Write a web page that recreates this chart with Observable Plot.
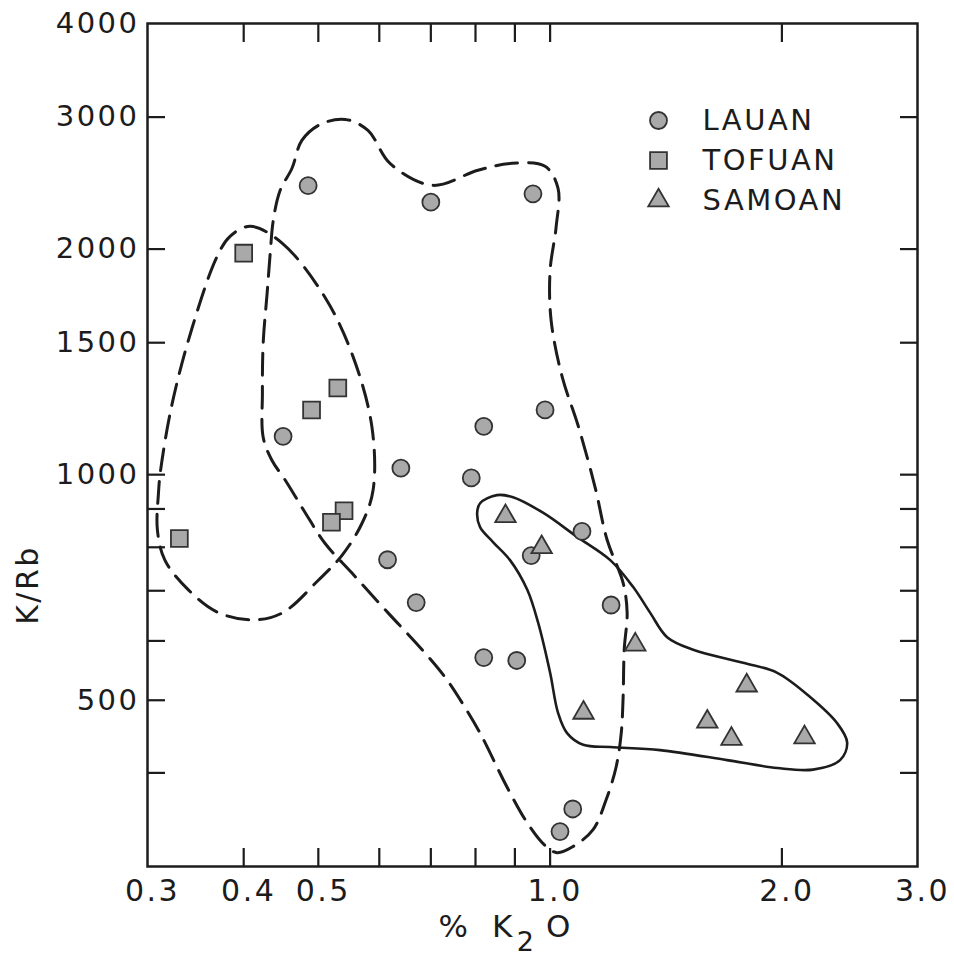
<!DOCTYPE html>
<html>
<head>
<meta charset="utf-8">
<script src="https://cdn.jsdelivr.net/npm/d3@7"></script>
<script src="https://cdn.jsdelivr.net/npm/@observablehq/plot@0.6"></script>
<style>
  body { margin: 0; background: #fff; }
  #chart svg { display: block; }
</style>
</head>
<body>
<div id="chart"></div>
<script>
// ---- Data ----
const seriesNames = ["LAUAN", "TOFUAN", "SAMOAN"];
const seriesSymbols = ["circle", "square", "triangle"];

// LAUAN samples (% K2O, K/Rb)
const lauanK2O = [0.485, 0.70, 0.95, 0.985, 0.82, 0.45, 0.64, 0.79, 0.615, 0.67, 0.82, 0.905, 1.10, 0.945, 1.20, 1.07, 1.03];
const lauanKRb = [2430, 2310, 2370, 1220, 1160, 1125, 1020, 990, 770, 675, 570, 565, 840, 780, 670, 358, 334];

// TOFUAN samples
const tofuanK2O = [0.40, 0.53, 0.49, 0.54, 0.52, 0.33];
const tofuanKRb = [1975, 1305, 1220, 895, 864, 822];

// SAMOAN samples
const samoanK2O = [0.875, 0.975, 1.29, 1.105, 1.80, 1.60, 1.72, 2.14];
const samoanKRb = [880, 800, 593, 481, 523, 468, 444, 446];

// Field envelopes (closed outlines, data units)
const tofuanEnvK2O = [0.408, 0.449, 0.510, 0.555, 0.587, 0.589, 0.570, 0.537, 0.500, 0.449, 0.410, 0.369, 0.339, 0.316, 0.309, 0.310, 0.312, 0.323, 0.343, 0.369, 0.384];
const tofuanEnvKRb = [2145, 2036, 1725, 1435, 1157, 954, 862, 781, 723, 654, 640, 656, 702, 769, 844, 945, 1014, 1245, 1573, 1950, 2080];

const lauanEnvK2O = [0.462, 0.476, 0.503, 0.542, 0.580, 0.620, 0.703, 0.806, 0.892, 0.985, 1.024, 1.018, 1.000, 1.003, 1.037, 1.087, 1.144, 1.186, 1.244, 1.259, 1.248, 1.244, 1.237, 1.218, 1.182, 1.137, 1.071, 1.021, 0.985, 0.934, 0.879, 0.811, 0.764, 0.730, 0.682, 0.616, 0.553, 0.510, 0.481, 0.453, 0.435, 0.424, 0.423, 0.424, 0.429, 0.433, 0.437, 0.446];
const lauanEnvKRb = [2562, 2793, 2934, 2979, 2880, 2600, 2433, 2548, 2603, 2579, 2410, 2138, 1874, 1607, 1349, 1164, 962, 818, 717, 654, 584, 505, 452, 407, 368, 336, 319, 313, 320, 343, 383, 452, 501, 537, 584, 654, 739, 810, 889, 983, 1046, 1122, 1285, 1498, 1746, 1974, 2185, 2395];

const samoanEnvK2O = [0.811, 0.853, 0.895, 0.980, 1.084, 1.197, 1.282, 1.349, 1.419, 1.534, 1.781, 1.972, 2.176, 2.359, 2.431, 2.380, 2.195, 1.972, 1.697, 1.389, 1.197, 1.104, 1.052, 1.024, 1.000, 0.965, 0.934, 0.887, 0.843, 0.811, 0.804];
const samoanEnvKRb = [916, 939, 933, 889, 826, 769, 708, 654, 607, 584, 561, 544, 505, 466, 439, 416, 404, 406, 416, 429, 433, 436, 452, 481, 544, 634, 702, 769, 813, 851, 889];

// Axis ticks
const xTickLabels = [0.3, 0.4, 0.5, 1.0, 2.0, 3.0];
const xTickMarks = [0.4, 0.5, 0.6, 0.7, 0.8, 0.9, 1.0, 2.0];
const yTickLabels = [500, 1000, 1500, 2000, 3000, 4000];
const yTickMarks = [400, 500, 600, 700, 800, 900, 1000, 1500, 2000, 3000];

const yTitle = "K/Rb";
// x title "% K2O", with the 2 set as a lowered subscript
const xTitleParts = ["%", "K", "2", "O"];

// ---- Build tables ----
const toRows = (xs, ys) => xs.map((k, i) => ({k2o: k, krb: ys[i]}));
const lauan = toRows(lauanK2O, lauanKRb);
const tofuan = toRows(tofuanK2O, tofuanKRb);
const samoan = toRows(samoanK2O, samoanKRb);
const tofuanEnv = toRows(tofuanEnvK2O, tofuanEnvKRb);
const lauanEnv = toRows(lauanEnvK2O, lauanEnvKRb);
const samoanEnv = toRows(samoanEnvK2O, samoanEnvKRb);

const ink = "#1c1c1c";
const font = "'DejaVu Sans', sans-serif";
const envStyle = {x: "k2o", y: "krb", curve: "catmull-rom-closed", stroke: ink, strokeWidth: 3, fill: "none"};
const dotStyle = {fill: "#a9a9a9", stroke: "#333", strokeWidth: 1.8};
const symbolR = {circle: 8.5, square: 9.5, triangle: 7.6};
const tickStyle = {stroke: ink, strokeWidth: 2.2, fill: "none", tickFormat: () => "", label: null};

const legendMarks = seriesNames.flatMap((name, i) => [
  Plot.dot([name], {frameAnchor: "top-right", dx: -259, dy: 97 + 40 * i, symbol: seriesSymbols[i], r: symbolR[seriesSymbols[i]], ...dotStyle}),
  Plot.text([name], {frameAnchor: "top-right", dx: -215, dy: 97 + 40 * i, text: d => d, textAnchor: "start", lineAnchor: "middle", fill: ink, fontSize: 29, letterSpacing: 3.5})
]);

// x title pieces: horizontal offsets from frame centre, subscript lowered
const xTitleDx = [-78, -29, -6, 27];
const xTitleDy = [61, 61, 76, 61];
const xTitleMarks = xTitleParts.map((t, i) =>
  Plot.text([t], {frameAnchor: "bottom", dx: xTitleDx[i], dy: xTitleDy[i], text: d => d, textAnchor: "middle", lineAnchor: "middle", fill: ink, fontSize: i === 2 ? 27 : 31, letterSpacing: 0})
);

const chart = Plot.plot({
  width: 954,
  height: 959,
  marginLeft: 147,
  marginRight: 37,
  marginTop: 23,
  marginBottom: 93,
  style: {fontFamily: font, fontSize: "29px", color: ink, background: "#fff", letterSpacing: "2.5px"},
  x: {type: "log", domain: [0.3, 3]},
  y: {type: "log", domain: [300, 4000]},
  marks: [
    Plot.line(tofuanEnv, {...envStyle, strokeDasharray: "22 11"}),
    Plot.line(lauanEnv, {...envStyle, strokeDasharray: "22 11"}),
    Plot.line(samoanEnv, {...envStyle, strokeWidth: 2.6}),
    Plot.dot(lauan, {x: "k2o", y: "krb", symbol: "circle", r: symbolR.circle, ...dotStyle}),
    Plot.dot(tofuan, {x: "k2o", y: "krb", symbol: "square", r: symbolR.square, ...dotStyle}),
    Plot.dot(samoan, {x: "k2o", y: "krb", symbol: "triangle", r: symbolR.triangle, ...dotStyle}),
    Plot.frame({stroke: ink, strokeWidth: 2.5}),
    // inward tick marks on all four sides
    Plot.axisX(xTickMarks, {anchor: "bottom", tickSize: 18, dy: -18, ...tickStyle}),
    Plot.axisX(xTickMarks, {anchor: "top", tickSize: 18, dy: 18, ...tickStyle}),
    Plot.axisY(yTickMarks, {anchor: "left", tickSize: 18, dx: 18, ...tickStyle}),
    Plot.axisY(yTickMarks, {anchor: "right", tickSize: 18, dx: -18, ...tickStyle}),
    // tick labels
    Plot.axisX(xTickLabels, {anchor: "bottom", tickSize: 0, tickPadding: 13, dx: 5, tickFormat: d => d.toFixed(1), label: null, fill: ink, fontSize: 30}),
    Plot.axisY(yTickLabels, {anchor: "left", tickSize: 0, tickPadding: 8, tickFormat: d => String(d), label: null, fill: ink}),
    // axis titles
    Plot.text([yTitle], {frameAnchor: "left", rotate: -90, dx: -119, dy: 140, text: d => d, textAnchor: "middle", lineAnchor: "middle", fill: ink, fontSize: 30, letterSpacing: 4}),
    ...xTitleMarks,
    ...legendMarks
  ]
});

document.getElementById("chart").append(chart);
</script>
</body>
</html>
